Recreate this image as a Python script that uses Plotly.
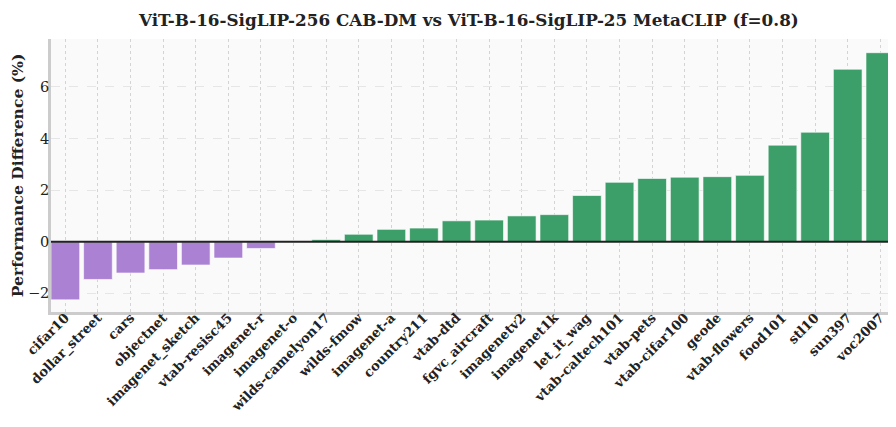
import plotly.graph_objects as go

categories = ["cifar10", "dollar_street", "cars", "objectnet", "imagenet_sketch",
              "vtab-resisc45", "imagenet-r", "imagenet-o", "wilds-camelyon17",
              "wilds-fmow", "imagenet-a", "country211", "vtab-dtd", "fgvc_aircraft",
              "imagenetv2", "imagenet1k", "let_it_wag", "vtab-caltech101", "vtab-pets",
              "vtab-cifar100", "geode", "vtab-flowers", "food101", "stl10", "sun397",
              "voc2007"]
values = [-2.25, -1.46, -1.21, -1.08, -0.90, -0.63, -0.26, 0.01, 0.08,
          0.29, 0.48, 0.53, 0.81, 0.84, 1.00, 1.05, 1.79, 2.30, 2.45,
          2.50, 2.52, 2.57, 3.74, 4.24, 6.68, 7.32]
y_ticks = [-2, 0, 2, 4, 6]

POS = "#3c9e68"
NEG = "#ab82d3"
colors = [POS if v >= 0 else NEG for v in values]
FONT = "DejaVu Serif"

fig = go.Figure()
fig.add_trace(go.Bar(
    x=list(range(len(categories))), y=values,
    marker=dict(color=colors, line=dict(color="rgba(255,255,255,0.6)", width=1)),
    width=0.88,
))
fig.add_shape(type="line", xref="paper", x0=0, x1=1, yref="y", y0=0, y1=0,
              line=dict(color="#222222", width=2.2), layer="above")

# page body has an 8px margin, so the figure is sized/offset to compensate
fig.update_layout(
    width=888, height=419,
    margin=dict(l=43, r=1, t=31, b=115),
    paper_bgcolor="white", plot_bgcolor="#fafafa",
    showlegend=False,
    title=dict(text="<b>ViT-B-16-SigLIP-256 CAB-DM vs ViT-B-16-SigLIP-25 MetaCLIP (f=0.8)</b>",
               x=0.519, xanchor="center", y=0.984, yanchor="top",
               font=dict(family=FONT, size=16.8, color="#222222")),
    font=dict(family=FONT, color="#222222"),
)
fig.update_xaxes(
    range=[-0.44, 25.45], automargin=False,
    tickmode="array", tickvals=list(range(len(categories))),
    ticktext=["<b>%s</b>" % c for c in categories],
    tickangle=-45, tickfont=dict(family=FONT, size=13.2, color="#222222"),
    ticklabelstandoff=-10,
    showgrid=True, gridcolor="#d4d4d4", griddash="dot", gridwidth=1,
    showline=True, linecolor="#cccccc", linewidth=2.5,
    ticks="", zeroline=False,
)
fig.update_yaxes(
    range=[-2.72, 7.85], automargin=False,
    tickmode="array", tickvals=y_ticks,
    tickfont=dict(family=FONT, size=14.5, color="#222222"),
    ticklabelstandoff=-4,
    title=dict(text="<b>Performance Difference (%)</b>",
               font=dict(family=FONT, size=15.6, color="#222222"), standoff=4),
    showgrid=True, gridcolor="#e6e6e6", griddash="dash", gridwidth=1,
    showline=True, linecolor="#cccccc", linewidth=2.5,
    ticks="", zeroline=False,
)
fig.write_html("out.html")
